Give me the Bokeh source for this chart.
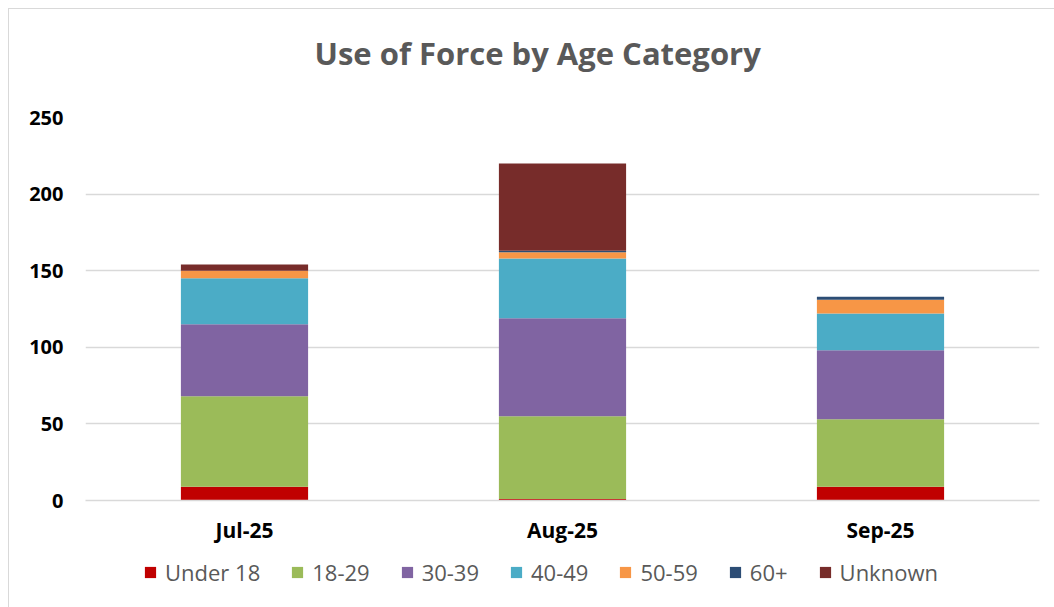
from bokeh.plotting import figure
from bokeh.models import (FactorRange, Range1d, FixedTicker, Legend, LegendItem,
                          Title, ColumnDataSource)
from bokeh.layouts import column
from bokeh.embed import file_html
from bokeh.resources import INLINE

months = ["Jul-25", "Aug-25", "Sep-25"]
age_groups = ["Under 18", "18-29", "30-39", "40-49", "50-59", "60+", "Unknown"]
under_18 = [9, 1, 9]
age_18_29 = [59, 54, 44]
age_30_39 = [47, 64, 45]
age_40_49 = [30, 39, 24]
age_50_59 = [5, 4, 9]
age_60_plus = [0, 1, 2]
unknown = [4, 57, 0]
y_ticks = [0, 50, 100, 150, 200, 250]
colors = ["#C00000", "#9BBB59", "#8064A2", "#4BACC6", "#F79646", "#2C4D75", "#772C2A"]

series = [under_18, age_18_29, age_30_39, age_40_49, age_50_59, age_60_plus, unknown]
data = {"month": months}
for name, vals in zip(age_groups, series):
    data[name] = vals
source = ColumnDataSource(data)

# ---------- main chart ----------
p = figure(
    x_range=FactorRange(factors=months, range_padding=0),
    y_range=Range1d(0, 250),
    width=1046, height=543,
    output_backend="svg", toolbar_location=None,
    min_border_left=76, min_border_right=16,
    min_border_top=108, min_border_bottom=52,
)
p.title.visible = False

spacer = Title(text=" ", text_font_size="1px", standoff=34)
p.add_layout(spacer, "above")
main_title = Title(text="Use of Force by Age Category", align="left", offset=229,
                   vertical_align="top",
                   text_font="Open Sans", text_font_size="31px", text_font_style="bold",
                   text_color="#595959", standoff=10)
p.add_layout(main_title, "above")

p.vbar_stack(age_groups, x="month", width=0.4, color=colors, source=source, line_color=None)

p.outline_line_color = None
p.xgrid.grid_line_color = None
p.ygrid.grid_line_color = "#d9d9d9"
p.ygrid.grid_line_width = 1.5

p.yaxis.ticker = FixedTicker(ticks=y_ticks)
p.yaxis.axis_line_color = None
p.yaxis.major_tick_line_color = None
p.yaxis.minor_tick_line_color = None
p.yaxis.major_label_text_font = "Open Sans"
p.yaxis.major_label_text_font_size = "20px"
p.yaxis.major_label_text_font_style = "bold"
p.yaxis.major_label_text_color = "#000000"
p.yaxis.major_label_standoff = 16

p.xaxis.axis_line_color = "#d9d9d9"
p.xaxis.axis_line_width = 1.5
p.xaxis.major_tick_line_color = None
p.xaxis.minor_tick_line_color = None
p.xaxis.major_label_text_font = "Open Sans"
p.xaxis.major_label_text_font_size = "21px"
p.xaxis.major_label_text_font_style = "bold"
p.xaxis.major_label_text_color = "#000000"
p.xaxis.major_label_standoff = 9

# ---------- legend strip ----------
p2 = figure(
    x_range=FactorRange(factors=months, range_padding=0),
    y_range=Range1d(1000, 1001),
    width=1046, height=56,
    output_backend="svg", toolbar_location=None,
    min_border_left=0, min_border_right=0, min_border_top=0, min_border_bottom=0,
)
p2.axis.visible = False
p2.grid.visible = False
p2.outline_line_color = None
legend_renderers = p2.vbar_stack(age_groups, x="month", width=0.4, color=colors,
                                 source=source, line_color=None)

items = [LegendItem(label=name, renderers=[r]) for name, r in zip(age_groups, legend_renderers)]
legend = Legend(items=items, orientation="horizontal", location=(58, 21))
legend.label_text_font = "Open Sans"
legend.label_text_font_size = "22px"
legend.label_text_color = "#595959"
legend.glyph_width = 14
legend.glyph_height = 14
legend.label_standoff = 8
legend.spacing = 30
legend.border_line_color = None
legend.background_fill_alpha = 0
legend.margin = 0
legend.padding = 2
p2.add_layout(legend, "center")

layout = column(p, p2, spacing=0)
layout.styles = {"margin-left": "8px", "margin-top": "8px",
                 "border-top": "1px solid #d9d9d9", "border-left": "1px solid #d9d9d9"}

open("out.html", "w").write(file_html(layout, INLINE))
